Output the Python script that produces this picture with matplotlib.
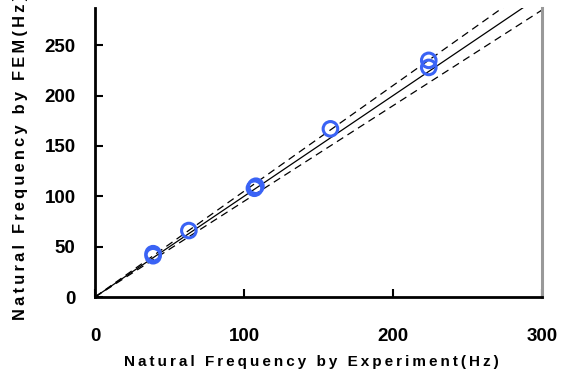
import matplotlib
matplotlib.use("Agg")
import matplotlib.pyplot as plt
import numpy as np

# Measured (experiment) vs computed (FEM) natural frequencies, Hz
freq_exp = [39, 39, 63, 107, 108, 158, 224, 224]
freq_fem = [41, 43, 66, 108, 110, 167, 228, 235]

x_ticks = [0, 100, 200, 300]
y_ticks = [0, 50, 100, 150, 200, 250]
tolerance = 0.05  # +/- 5 % band

FONT = "Liberation Sans"

def spaced(s):
    return "\u2009".join(s)

fig = plt.figure(figsize=(5.69, 3.80), dpi=100)
ax = fig.add_axes([95/569, 1-297/380, (542-95)/569, (297-8)/380])

xmax, ymax = 300, 287
line_x = np.array([0, xmax * 1.2])
ax.plot(line_x, line_x, color="black", lw=0.9, zorder=2)
ax.plot(line_x, line_x * (1 + tolerance), color="black", lw=0.9, ls=(0, (6, 4)), zorder=2)
ax.plot(line_x, line_x * (1 - tolerance), color="black", lw=0.9, ls=(0, (6, 4)), zorder=2)

ax.scatter(freq_exp, freq_fem, s=110, facecolors="none", edgecolors="#3a63f5",
           linewidths=2.2, zorder=3)

ax.set_xlim(0, xmax)
ax.set_ylim(0, ymax)
ax.set_xticks(x_ticks)
ax.set_yticks(y_ticks)

for s in ["left", "bottom"]:
    ax.spines[s].set_linewidth(2.0)
    ax.spines[s].set_color("black")
ax.spines["top"].set_visible(False)
ax.spines["right"].set_linewidth(2.2)
ax.spines["right"].set_color("#999999")

ax.tick_params(axis="both", direction="in", length=6, width=1.5, colors="black")
ax.tick_params(axis="x", pad=22)
ax.tick_params(axis="y", pad=14)
for lab in ax.get_xticklabels() + ax.get_yticklabels():
    lab.set_fontfamily(FONT)
    lab.set_fontweight("bold")
    lab.set_fontsize(13.5)

fig.text((95+542)/2/569 - 7/569, 1-362/380, spaced("Natural Frequency by Experiment(Hz)"),
         ha="center", va="center", fontsize=11, fontweight="bold", family=FONT)
fig.text(21/569, 1-320/380, spaced("Natural Frequency by FEM(Hz)"),
         ha="center", va="bottom", rotation=90, fontsize=11.8, fontweight="bold", family=FONT)

fig.savefig("out.png", dpi=100)
